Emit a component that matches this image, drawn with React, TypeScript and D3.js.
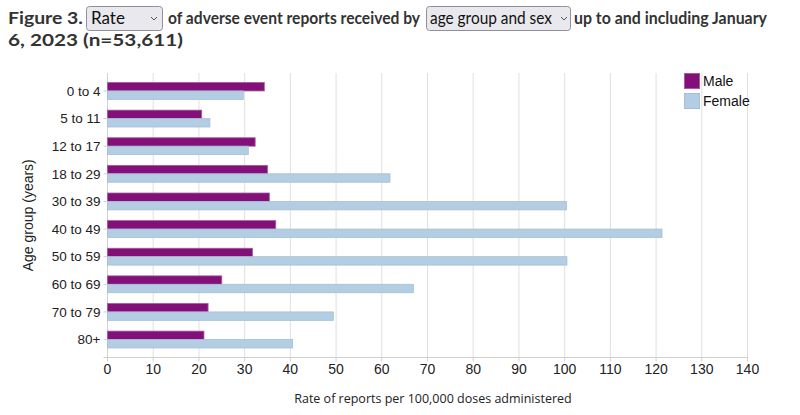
import React from "react";
import * as d3 from "d3";

const categories = ["0 to 4", "5 to 11", "12 to 17", "18 to 29", "30 to 39", "40 to 49", "50 to 59", "60 to 69", "70 to 79", "80+"];
const maleValues = [34.3, 20.6, 32.3, 35.0, 35.4, 36.8, 31.7, 25.0, 22.0, 21.1];
const femaleValues = [29.7, 22.4, 30.8, 61.8, 100.4, 121.3, 100.5, 66.9, 49.4, 40.5];
const xTicks = [0, 10, 20, 30, 40, 50, 60, 70, 80, 90, 100, 110, 120, 130, 140];
const seriesNames = ["Male", "Female"];
const seriesColors = ["#830f79", "#b3cde3"];
const seriesStroke = ["#a35a9f", "#a5bfd6"];

const W = 800, H = 415;
const left = 107.5, right = 747.5, top = 73, bottom = 357.5;

export default function App() {
  const x = d3.scaleLinear().domain([0, 140]).range([left, right]);
  const y = d3.scalePoint<string>().domain(categories).range([top, bottom]).padding(0.65);
  const step = y.step();
  const barH = step * 0.305;
  const font = "Arial, 'Liberation Sans', sans-serif";
  const titleFont = "Lato, sans-serif";

  return (
    <svg width={W} height={H} style={{ position: "absolute", left: 0, top: 0, background: "#fff" }}>
      {/* Title */}
      <g fontFamily={titleFont} fontSize={17} fill="#333" fontWeight="bold">
        <text x={8} y={24} textLength={75} lengthAdjust="spacingAndGlyphs">Figure 3.</text>
        <rect x={86.5} y={6.5} width={76} height={24} rx={3} fill="#e9e9ed" stroke="#8f8f9d" />
        <text x={91} y={24} fontWeight="normal" fill="#111">Rate</text>
        <path d="M151,17 l3,3 l3,-3" fill="none" stroke="#555" strokeWidth={1} />
        <text x={168} y={24} textLength={252} lengthAdjust="spacingAndGlyphs">of adverse event reports received by</text>
        <rect x={426.5} y={6.5} width={144} height={24} rx={3} fill="#e9e9ed" stroke="#8f8f9d" />
        <text x={430} y={24} fontWeight="normal" fill="#111" textLength={122} lengthAdjust="spacingAndGlyphs">age group and sex</text>
        <path d="M561,17 l3,3 l3,-3" fill="none" stroke="#555" strokeWidth={1} />
        <text x={574} y={24} textLength={193} lengthAdjust="spacingAndGlyphs">up to and including January</text>
        <text x={8} y={46} textLength={175} lengthAdjust="spacingAndGlyphs">6, 2023 (n=53,611)</text>
      </g>

      {/* Gridlines */}
      {xTicks.map((t) => (
        <line key={"g" + t} x1={x(t)} x2={x(t)} y1={top} y2={bottom} stroke="#e0e0e0" strokeWidth={1} />
      ))}
      {/* Axes lines */}
      <line x1={left} x2={left} y1={top} y2={bottom} stroke="#d0d0d0" />
      <line x1={left - 4} x2={right} y1={bottom} y2={bottom} stroke="#d0d0d0" />
      {xTicks.map((t) => (
        <line key={"t" + t} x1={x(t)} x2={x(t)} y1={bottom} y2={bottom + 4} stroke="#d0d0d0" />
      ))}

      {/* Bars */}
      {categories.map((c, i) => {
        const cy = y(c)!;
        return (
          <g key={c}>
            <rect x={x(0)} y={cy - barH} width={x(maleValues[i]) - x(0)} height={barH} fill={seriesColors[0]} stroke={seriesStroke[0]} strokeWidth={0.8} />
            <rect x={x(0)} y={cy} width={x(femaleValues[i]) - x(0)} height={barH} fill={seriesColors[1]} stroke={seriesStroke[1]} strokeWidth={0.8} />
            <line x1={left - 4} x2={left} y1={cy} y2={cy} stroke="#d0d0d0" />
            <text x={left - 7} y={cy} dy="0.35em" textAnchor="end" fontFamily={font} fontSize={13.5} fill="#222">{c}</text>
          </g>
        );
      })}

      {/* X tick labels */}
      {xTicks.map((t) => (
        <text key={"l" + t} x={x(t)} y={bottom + 16} textAnchor="middle" fontFamily={font} fontSize={14} fill="#222">{t}</text>
      ))}

      {/* Axis titles */}
      <text x={433} y={403} textAnchor="middle" fontFamily="'Open Sans', sans-serif" fontSize={12.5} fill="#222">Rate of reports per 100,000 doses administered</text>
      <text transform={`translate(33,${(top + bottom) / 2}) rotate(-90)`} textAnchor="middle" fontFamily={font} fontSize={14} fill="#222">Age group (years)</text>

      {/* Legend */}
      {seriesNames.map((s, i) => (
        <g key={s}>
          <rect x={684.5} y={73.5 + i * 20} width={15} height={15} fill={seriesColors[i]} stroke={seriesStroke[i]} />
          <text x={703} y={86 + i * 20} fontFamily={font} fontSize={14} fill="#111">{s}</text>
        </g>
      ))}
    </svg>
  );
}
